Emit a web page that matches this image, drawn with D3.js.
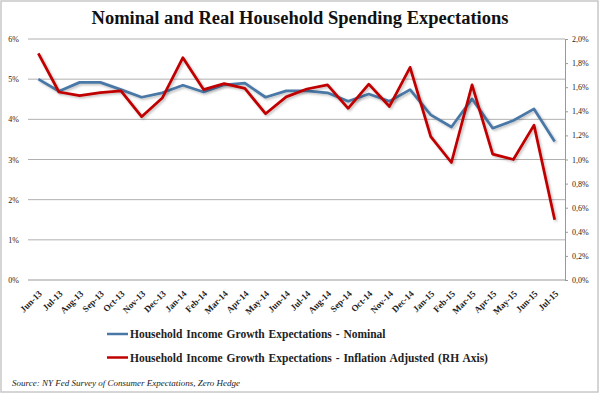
<!DOCTYPE html>
<html>
<head>
<meta charset="utf-8">
<script src="https://cdn.jsdelivr.net/npm/d3@7"></script>
<style>
  body { margin: 0; background: #fff; }
</style>
</head>
<body>
<div id="chart"></div>
<script>
const WIDTH = 600;
const HEIGHT = 394;

const months = ["Jun-13","Jul-13","Aug-13","Sep-13","Oct-13","Nov-13","Dec-13",
  "Jan-14","Feb-14","Mar-14","Apr-14","May-14","Jun-14","Jul-14","Aug-14","Sep-14",
  "Oct-14","Nov-14","Dec-14","Jan-15","Feb-15","Mar-15","Apr-15","May-15","Jun-15","Jul-15"];

// left axis, percent
const nominal = [5.0, 4.7, 4.92, 4.92, 4.74, 4.55, 4.66, 4.85, 4.68, 4.86, 4.9, 4.55, 4.71,
  4.71, 4.66, 4.45, 4.63, 4.45, 4.74, 4.11, 3.81, 4.51, 3.78, 3.97, 4.26, 3.45];

// right axis, percent
const inflAdj = [1.88, 1.56, 1.53, 1.555, 1.57, 1.355, 1.51, 1.845, 1.58, 1.63, 1.59, 1.38, 1.52,
  1.585, 1.62, 1.425, 1.625, 1.44, 1.765, 1.19, 0.975, 1.62, 1.045, 1.0, 1.285, 0.50];

const leftTicks = [0, 1, 2, 3, 4, 5, 6];
const rightTicks = [0, 0.2, 0.4, 0.6, 0.8, 1.0, 1.2, 1.4, 1.6, 1.8, 2.0];

const legendItems = [
  {label: "Household Income Growth Expectations - Nominal", color: "#4a78a6"},
  {label: "Household Income Growth Expectations - Inflation Adjusted (RH Axis)", color: "#c00000"}
];

const PLOT_LEFT = 28, PLOT_RIGHT = 565, PLOT_TOP = 39, PLOT_BOTTOM = 280;

const svg = d3.select("#chart").append("svg")
  .attr("width", WIDTH)
  .attr("height", HEIGHT);

svg.append("rect")
  .attr("x", 1).attr("y", 1)
  .attr("width", WIDTH - 3).attr("height", HEIGHT - 3)
  .attr("fill", "#fff")
  .attr("stroke", "#c8c8c8")
  .attr("stroke-width", 1.5);

const defs = svg.append("defs");
const shadow = defs.append("filter").attr("id", "shadow")
  .attr("x", "-5%").attr("y", "-5%").attr("width", "110%").attr("height", "120%");
shadow.append("feDropShadow")
  .attr("dx", 1.5).attr("dy", 1.5).attr("stdDeviation", 1)
  .attr("flood-color", "#000").attr("flood-opacity", 0.25);

const xScale = d3.scaleBand().domain(months).range([PLOT_LEFT, PLOT_RIGHT]);
const yLeft = d3.scaleLinear().domain([0, 6]).range([PLOT_BOTTOM, PLOT_TOP]);
const yRight = d3.scaleLinear().domain([0, 2]).range([PLOT_BOTTOM, PLOT_TOP]);
const xPos = d => xScale(d) + xScale.bandwidth() / 2;

// title
svg.append("text")
  .attr("x", 300).attr("y", 24)
  .attr("text-anchor", "middle")
  .style("font-family", "Liberation Serif, serif")
  .style("font-weight", "bold")
  .style("font-size", "18.5px")
  .style("fill", "#111")
  .text("Nominal and Real Household Spending Expectations");

// gridlines
svg.append("g").selectAll("line")
  .data(leftTicks)
  .join("line")
  .attr("x1", PLOT_LEFT).attr("x2", PLOT_RIGHT)
  .attr("y1", d => yLeft(d)).attr("y2", d => yLeft(d))
  .attr("stroke", d => d === 0 ? "#999" : "#b0b0b0")
  .attr("stroke-width", 1);

// left axis
const leftAxis = svg.append("g")
  .attr("transform", "translate(" + (PLOT_LEFT - 6) + ",0)")
  .call(d3.axisLeft(yLeft).tickValues(leftTicks).tickSize(0).tickFormat(d => d + "%"));
leftAxis.select(".domain").remove();
leftAxis.selectAll("text")
  .style("font-family", "Liberation Serif, serif")
  .style("font-size", "8px")
  .style("fill", "#222");

// right axis
const rightAxis = svg.append("g")
  .attr("transform", "translate(" + PLOT_RIGHT + ",0)")
  .call(d3.axisRight(yRight).tickValues(rightTicks).tickSize(3).tickPadding(4)
    .tickFormat(d => d3.format(".1f")(d).replace(".", ",") + "%"));
rightAxis.select(".domain").attr("stroke", "#999");
rightAxis.selectAll(".tick line").attr("stroke", "#999");
rightAxis.selectAll("text")
  .style("font-family", "Liberation Serif, serif")
  .style("font-size", "8px")
  .style("fill", "#222");

// x axis labels
const xAxis = svg.append("g")
  .attr("transform", "translate(0," + PLOT_BOTTOM + ")")
  .call(d3.axisBottom(xScale).tickSize(0).tickPadding(0));
xAxis.select(".domain").remove();
xAxis.selectAll("text")
  .attr("text-anchor", "end")
  .attr("transform", "translate(2,12) rotate(-45)")
  .attr("dy", "0.35em")
  .style("font-family", "Liberation Serif, serif")
  .style("font-weight", "bold")
  .style("font-size", "9px")
  .style("fill", "#222");

// lines
const lineLeft = d3.line().x((d, i) => xPos(months[i])).y(d => yLeft(d));
const lineRight = d3.line().x((d, i) => xPos(months[i])).y(d => yRight(d));

svg.append("path")
  .datum(nominal)
  .attr("d", lineLeft)
  .attr("fill", "none")
  .attr("stroke", legendItems[0].color)
  .attr("stroke-width", 2.75)
  .attr("stroke-linejoin", "round")
  .attr("filter", "url(#shadow)");

svg.append("path")
  .datum(inflAdj)
  .attr("d", lineRight)
  .attr("fill", "none")
  .attr("stroke", legendItems[1].color)
  .attr("stroke-width", 2.75)
  .attr("stroke-linejoin", "round")
  .attr("filter", "url(#shadow)");

// legend
const legend = svg.append("g").selectAll("g")
  .data(legendItems)
  .join("g")
  .attr("transform", (d, i) => "translate(107," + (334 + i * 23.5) + ")");
legend.append("line")
  .attr("x1", 0).attr("x2", 21)
  .attr("stroke", d => d.color)
  .attr("stroke-width", 2.5);
legend.append("text")
  .attr("x", 23).attr("dy", "0.35em")
  .style("font-family", "Liberation Serif, serif")
  .style("font-weight", "bold")
  .style("font-size", "11.5px")
  .style("word-spacing", "1px")
  .style("fill", "#222")
  .text(d => d.label);

// source
svg.append("text")
  .attr("x", 12).attr("y", 386)
  .style("font-family", "Liberation Serif, serif")
  .style("font-style", "italic")
  .style("font-size", "9px")
  .style("fill", "#222")
  .text("Source: NY Fed Survey of Consumer Expectations, Zero Hedge");
</script>
</body>
</html>
